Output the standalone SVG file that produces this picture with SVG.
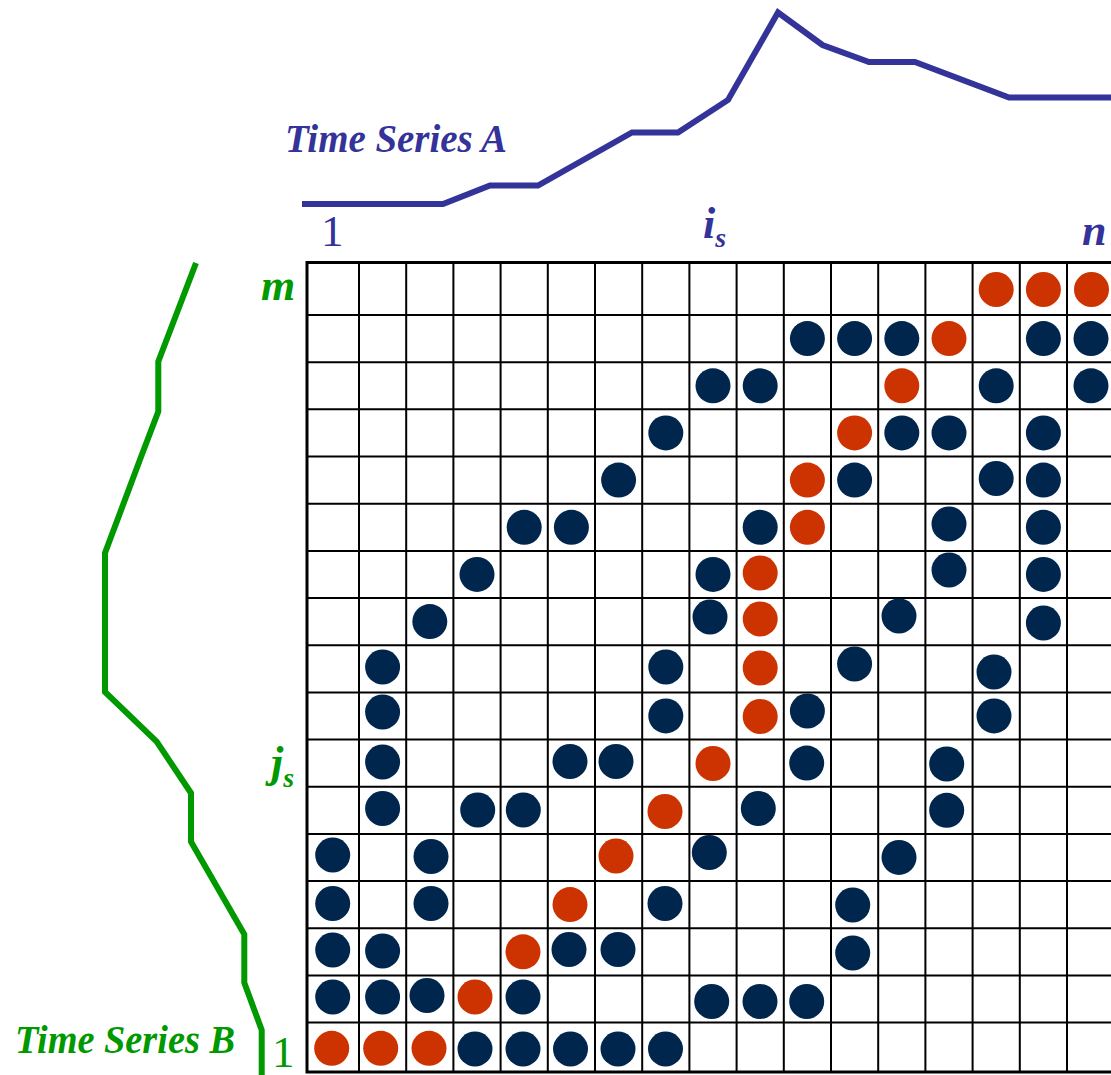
<svg xmlns="http://www.w3.org/2000/svg" width="1111" height="1075" viewBox="0 0 1111 1075">
<style>
.bg{fill:#ffffff}
.gl{stroke:#000;stroke-width:2;fill:none}
.bd{stroke:#000;stroke-width:3;fill:none}
.n{fill:#00264D}
.o{fill:#CC3300}
.sa{stroke:#333399;stroke-width:6;fill:none;stroke-linejoin:miter}
.sb{stroke:#009900;stroke-width:6;fill:none;stroke-linejoin:miter}
.t{font-family:"Liberation Serif","Times New Roman",serif}
.blue{fill:#333399}
.green{fill:#009900}
.ttl{font-size:41px;font-style:italic;font-weight:bold}
.num{font-size:45px}
.bi{font-size:44px;font-style:italic;font-weight:bold}
.sub{font-size:28px}
</style>
<rect class="bg" x="0" y="0" width="1111" height="1075"/>

<g id="grid">
<path class="gl" d="M359 262V1072M406.2 262V1072M453.4 262V1072M500.6 262V1072M547.8 262V1072M595 262V1072M642.2 262V1072M689.4 262V1072M736.6 262V1072M783.8 262V1072M831 262V1072M878.2 262V1072M925.4 262V1072M972.6 262V1072M1019.8 262V1072M1067 262V1072"/>
<path class="gl" d="M307 315H1111M307 362.2H1111M307 409.3H1111M307 456.5H1111M307 503.7H1111M307 550.9H1111M307 598H1111M307 645.2H1111M307 692.4H1111M307 739.5H1111M307 786.7H1111M307 833.9H1111M307 881H1111M307 928.2H1111M307 975.4H1111M307 1022.5H1111"/>
<path class="bd" d="M1111 262.5H307V1072H1111"/>
</g>

<g id="matches">
<!-- row 0 (m) -->
<circle class="o" cx="996.2" cy="289.5" r="17.5"/><circle class="o" cx="1043.4" cy="289.5" r="17.5"/><circle class="o" cx="1091.5" cy="289.5" r="17.5"/>
<!-- row 1 -->
<circle class="n" cx="807.4" cy="338.6" r="17.5"/><circle class="n" cx="854.6" cy="338.6" r="17.5"/><circle class="n" cx="901.8" cy="338.6" r="17.5"/><circle class="o" cx="949" cy="338.6" r="17.5"/><circle class="n" cx="1043.4" cy="338.6" r="17.5"/><circle class="n" cx="1091" cy="338.6" r="17.5"/>
<!-- row 2 -->
<circle class="n" cx="713" cy="385.8" r="17.5"/><circle class="n" cx="760.2" cy="385.8" r="17.5"/><circle class="o" cx="901.8" cy="385.8" r="17.5"/><circle class="n" cx="996.2" cy="385.8" r="17.5"/><circle class="n" cx="1091" cy="385.8" r="17.5"/>
<!-- row 3 -->
<circle class="n" cx="665.8" cy="432.9" r="17.5"/><circle class="o" cx="854.6" cy="432.9" r="17.5"/><circle class="n" cx="901.8" cy="432.9" r="17.5"/><circle class="n" cx="949" cy="432.9" r="17.5"/><circle class="n" cx="1043.4" cy="432.9" r="17.5"/>
<!-- row 4 -->
<circle class="n" cx="618.6" cy="480.1" r="17.5"/><circle class="o" cx="807.4" cy="480.1" r="17.5"/><circle class="n" cx="854.6" cy="480.1" r="17.5"/><circle class="n" cx="996.2" cy="478.5" r="17.5"/><circle class="n" cx="1043.4" cy="480.1" r="17.5"/>
<!-- row 5 -->
<circle class="n" cx="524.2" cy="527.3" r="17.5"/><circle class="n" cx="571.4" cy="527.3" r="17.5"/><circle class="n" cx="760.2" cy="527.3" r="17.5"/><circle class="o" cx="807.4" cy="527.3" r="17.5"/><circle class="n" cx="949" cy="524" r="17.5"/><circle class="n" cx="1043.4" cy="527.3" r="17.5"/>
<!-- row 6 -->
<circle class="n" cx="477" cy="574.4" r="17.5"/><circle class="n" cx="713" cy="574.4" r="17.5"/><circle class="o" cx="760.2" cy="573" r="17.5"/><circle class="n" cx="949" cy="570" r="17.5"/><circle class="n" cx="1043.4" cy="574.4" r="17.5"/>
<!-- row 7 -->
<circle class="n" cx="429.8" cy="621.6" r="17.5"/><circle class="n" cx="710" cy="617" r="17.5"/><circle class="o" cx="760.2" cy="619" r="17.5"/><circle class="n" cx="899" cy="616" r="17.5"/><circle class="n" cx="1043.4" cy="623" r="17.5"/>
<!-- row 8 -->
<circle class="n" cx="382.6" cy="667" r="17.5"/><circle class="n" cx="665.8" cy="667" r="17.5"/><circle class="o" cx="760.2" cy="668" r="17.5"/><circle class="n" cx="854.6" cy="664" r="17.5"/><circle class="n" cx="994" cy="672" r="17.5"/>
<!-- row 9 -->
<circle class="n" cx="382.6" cy="712" r="17.5"/><circle class="n" cx="665.8" cy="715.9" r="17.5"/><circle class="o" cx="760.2" cy="716.5" r="17.5"/><circle class="n" cx="807.4" cy="711" r="17.5"/><circle class="n" cx="994" cy="715.9" r="17.5"/>
<!-- row 10 -->
<circle class="n" cx="382.6" cy="762" r="17.5"/><circle class="n" cx="570" cy="761.5" r="17.5"/><circle class="n" cx="616" cy="761.5" r="17.5"/><circle class="o" cx="713" cy="763.5" r="17.5"/><circle class="n" cx="806.7" cy="763.1" r="17.5"/><circle class="n" cx="946.7" cy="764" r="17.5"/>
<!-- row 11 -->
<circle class="n" cx="382.6" cy="808.5" r="17.5"/><circle class="n" cx="477.7" cy="810" r="17.5"/><circle class="n" cx="523.3" cy="810" r="17.5"/><circle class="o" cx="665" cy="811.5" r="17.5"/><circle class="n" cx="758.3" cy="808.5" r="17.5"/><circle class="n" cx="946.7" cy="810.3" r="17.5"/>
<!-- row 12 -->
<circle class="n" cx="332.7" cy="855" r="17.5"/><circle class="n" cx="431" cy="856.5" r="17.5"/><circle class="o" cx="616" cy="856" r="17.5"/><circle class="n" cx="709.3" cy="852.5" r="17.5"/><circle class="n" cx="899" cy="857.4" r="17.5"/>
<!-- row 13 -->
<circle class="n" cx="332.7" cy="903.5" r="17.5"/><circle class="n" cx="431" cy="903.5" r="17.5"/><circle class="o" cx="570" cy="904.6" r="17.5"/><circle class="n" cx="665" cy="903.5" r="17.5"/><circle class="n" cx="852.7" cy="905" r="17.5"/>
<!-- row 14 -->
<circle class="n" cx="332.7" cy="950" r="17.5"/><circle class="n" cx="382.6" cy="951" r="17.5"/><circle class="o" cx="523" cy="951.8" r="17.5"/><circle class="n" cx="569" cy="949.5" r="17.5"/><circle class="n" cx="618" cy="949.5" r="17.5"/><circle class="n" cx="852.7" cy="953" r="17.5"/>
<!-- row 15 -->
<circle class="n" cx="332.7" cy="997" r="17.5"/><circle class="n" cx="382.6" cy="997" r="17.5"/><circle class="n" cx="427" cy="995.5" r="17.5"/><circle class="o" cx="475" cy="997" r="17.5"/><circle class="n" cx="523" cy="997" r="17.5"/><circle class="n" cx="711.7" cy="1001.5" r="17.5"/><circle class="n" cx="760" cy="1001.5" r="17.5"/><circle class="n" cx="806.7" cy="1001.5" r="17.5"/>
<!-- row 16 (1) -->
<circle class="o" cx="331.7" cy="1048.3" r="17.5"/><circle class="o" cx="380.7" cy="1048.3" r="17.5"/><circle class="o" cx="429" cy="1048.3" r="17.5"/><circle class="n" cx="475" cy="1049" r="17.5"/><circle class="n" cx="523" cy="1049" r="17.5"/><circle class="n" cx="570.5" cy="1049" r="17.5"/><circle class="n" cx="618" cy="1049" r="17.5"/><circle class="n" cx="665.5" cy="1049" r="17.5"/>
</g>

<g id="series-a">
<polyline class="sa" points="302,204 443,204 490,185.5 538,185.5 632,132.5 678,132.5 728,100 778,12.5 822.5,45 869,62 915,62 1009,97.5 1111,97.5"/>
<text class="t blue ttl" x="285" y="152" textLength="222" lengthAdjust="spacingAndGlyphs">Time Series A</text>
<text class="t blue num" x="321" y="246">1</text>
<text class="t blue bi" x="703" y="238">i<tspan class="sub" dy="9">s</tspan></text>
<text class="t blue bi" x="1082" y="245">n</text>
</g>

<g id="series-b">
<polyline class="sb" points="196,263 158.3,361.5 158.3,411.5 140.5,458.3 105,553 105,692 156.7,741.7 191,793 191,841.7 244.3,934.3 244.3,982.7 261.7,1030 261.7,1075"/>
<text class="t green ttl" x="15" y="1053" textLength="220" lengthAdjust="spacingAndGlyphs">Time Series B</text>
<text class="t green num" x="272" y="1067">1</text>
<text class="t green bi" x="261" y="300">m</text>
<text class="t green bi" x="271" y="777">j<tspan class="sub" dy="10">s</tspan></text>
</g>
</svg>
